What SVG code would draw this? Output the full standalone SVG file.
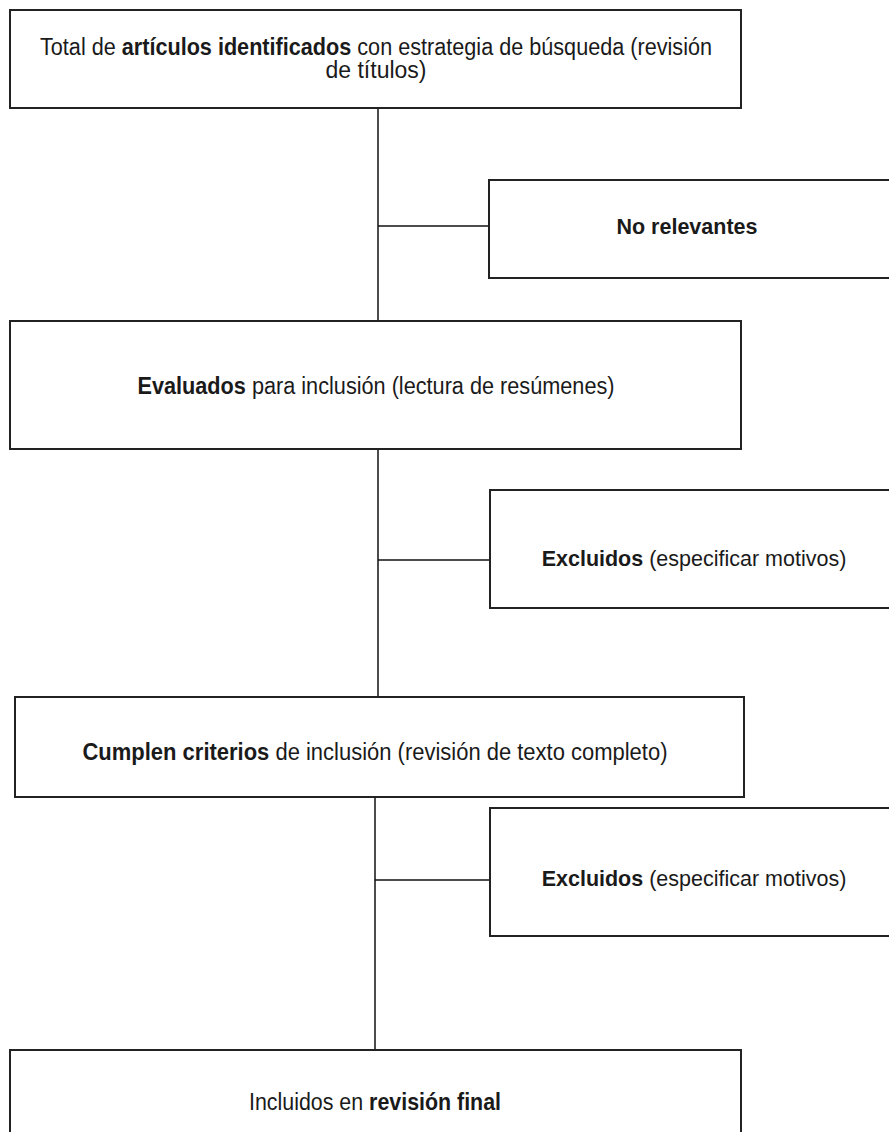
<svg xmlns="http://www.w3.org/2000/svg" width="889" height="1132" viewBox="0 0 889 1132">
<style>
.box{fill:#fff;stroke:#222;stroke-width:2}
.ln{stroke:#111;stroke-width:1.5;fill:none}
.t{font-family:"Liberation Sans",Arial,sans-serif;font-size:21.5px;fill:#1a1a1a;text-anchor:middle}
.c{font-size:23px}
.b{font-weight:bold}
</style>
<rect width="889" height="1132" fill="#fff"/>
<g id="connectors">
<line class="ln" x1="378" y1="109" x2="378" y2="321"/>
<line class="ln" x1="378" y1="226" x2="489" y2="226"/>
<line class="ln" x1="378" y1="449" x2="378" y2="697"/>
<line class="ln" x1="378" y1="560" x2="490" y2="560"/>
<line class="ln" x1="375" y1="797" x2="375" y2="1050"/>
<line class="ln" x1="375" y1="880" x2="490" y2="880"/>
</g>
<g id="n1">
<rect class="box" x="10" y="10" width="731" height="98"/>
<text class="t c" x="376" y="55" textLength="672" lengthAdjust="spacingAndGlyphs">Total de <tspan class="b">artículos identificados</tspan> con estrategia de búsqueda (revisión</text>
<text class="t c" x="376" y="78">de títulos)</text>
</g>
<g id="n2">
<rect class="box" x="489" y="180" width="410" height="98"/>
<text class="t b" x="687" y="234">No relevantes</text>
</g>
<g id="n3">
<rect class="box" x="10" y="321" width="731" height="128"/>
<text class="t c" x="376" y="394" textLength="477" lengthAdjust="spacingAndGlyphs"><tspan class="b">Evaluados</tspan> para inclusión (lectura de resúmenes)</text>
</g>
<g id="n4">
<rect class="box" x="490" y="490" width="410" height="118"/>
<text class="t" x="694" y="566"><tspan class="b">Excluidos</tspan> (especificar motivos)</text>
</g>
<g id="n5">
<rect class="box" x="15" y="697" width="729" height="100"/>
<text class="t c" x="375" y="760" textLength="585" lengthAdjust="spacingAndGlyphs"><tspan class="b">Cumplen criterios</tspan> de inclusión (revisión de texto completo)</text>
</g>
<g id="n6">
<rect class="box" x="490" y="808" width="410" height="128"/>
<text class="t" x="694" y="886"><tspan class="b">Excluidos</tspan> (especificar motivos)</text>
</g>
<g id="n7">
<rect class="box" x="10" y="1050" width="731" height="100"/>
<text class="t c" x="375" y="1110" textLength="252" lengthAdjust="spacingAndGlyphs">Incluidos en <tspan class="b">revisión final</tspan></text>
</g>
</svg>
